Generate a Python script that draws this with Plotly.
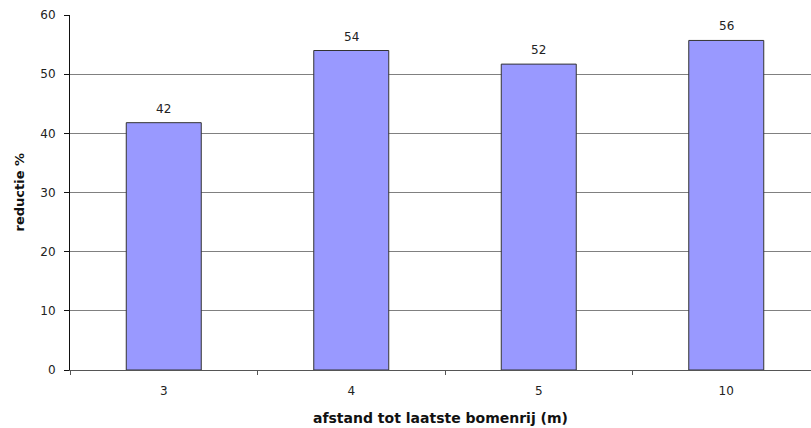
import plotly.graph_objects as go

categories = ["3", "4", "5", "10"]
values = [41.8, 54.0, 51.7, 55.7]
labels = ["42", "54", "52", "56"]
y_ticks = [0, 10, 20, 30, 40, 50, 60]

font_family = "DejaVu Sans, Verdana, sans-serif"
txt_color = "#222222"

fig = go.Figure()
fig.add_trace(go.Bar(
    x=categories,
    y=values,
    width=0.4,
    marker=dict(color="#9999FF", line=dict(color="#333333", width=1)),
    hoverinfo="x+y",
))

annotations = []
for i, (v, t) in enumerate(zip(values, labels)):
    annotations.append(dict(
        x=i, y=v, xref="x", yref="y", text=t, showarrow=False,
        yanchor="middle", yshift=14,
        font=dict(family=font_family, size=12, color=txt_color),
    ))

annotations.append(dict(
    x=0.5, y=0, xref="paper", yref="paper", xanchor="center", yanchor="middle",
    yshift=-48, showarrow=False,
    text="<b>afstand tot laatste bomenrij (m)</b>",
    font=dict(family=font_family, size=14, color="#111111"),
))
annotations.append(dict(
    x=0, y=0.5, xref="paper", yref="paper", xanchor="center", yanchor="middle",
    xshift=-51, showarrow=False, textangle=-90,
    text="<b>reductie %</b>",
    font=dict(family=font_family, size=13, color="#111111"),
))

fig.update_layout(
    width=811,
    height=428,
    margin=dict(l=70, r=0, t=15, b=58),
    paper_bgcolor="white",
    plot_bgcolor="white",
    showlegend=False,
    annotations=annotations,
    font=dict(family=font_family, size=12, color=txt_color),
    xaxis=dict(
        type="category",
        range=[-0.5, 3.452],
        tickson="boundaries",
        ticks="outside",
        ticklen=4,
        tickcolor="#555555",
        showline=True,
        linecolor="#555555",
        linewidth=1,
        showgrid=False,
        ticklabelstandoff=10,
        tickfont=dict(family=font_family, size=12, color=txt_color),
    ),
    yaxis=dict(
        range=[0, 60],
        tickvals=y_ticks,
        ticks="outside",
        ticklen=5,
        tickcolor="#111111",
        showline=True,
        linecolor="#111111",
        linewidth=1,
        showgrid=True,
        gridcolor="#808080",
        gridwidth=1,
        zeroline=False,
        ticklabelstandoff=6,
        tickfont=dict(family=font_family, size=12, color=txt_color),
    ),
)

fig.write_html("out.html")
